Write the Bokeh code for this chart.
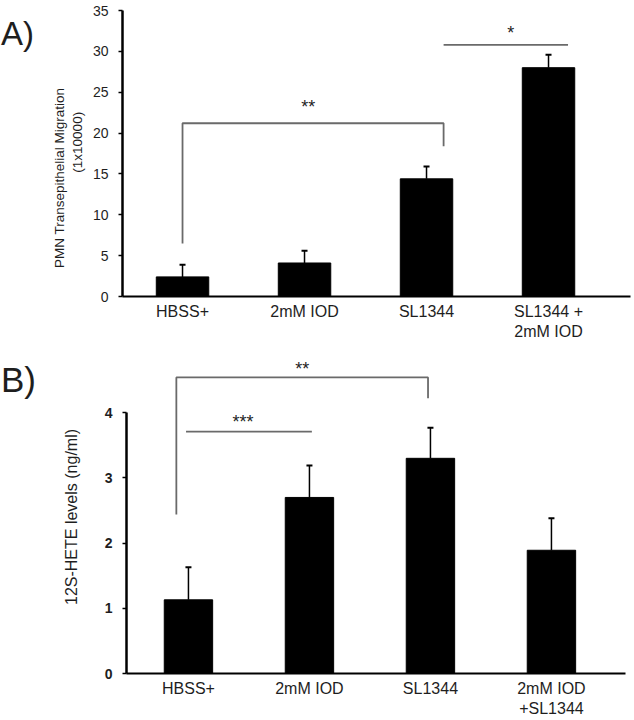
from bokeh.plotting import figure
from bokeh.layouts import column, row
from bokeh.models import Range1d, FixedTicker, Whisker, ColumnDataSource, TeeHead, Label, Div
from bokeh.embed import file_html
from bokeh.resources import INLINE

# ---- Panel A data ----
a_categories = ["HBSS+", "2mM IOD", "SL1344", "SL1344 +\n2mM IOD"]
a_values = [2.4, 4.1, 14.4, 28.0]
a_errors = [1.5, 1.5, 1.5, 1.6]
a_br1_x = [1.0, 1.0, 3.14, 3.14]
a_br1_y = [6.5, 21.2, 21.2, 18.4]
a_br2_x = [3.14, 4.16]
a_br2_y = [30.8, 30.8]
a_stars = ["**", "*"]
a_star_x = [2.03, 3.69]
a_star_y = [23.2, 32.3]

# ---- Panel B data ----
b_categories = ["HBSS+", "2mM IOD", "SL1344", "2mM IOD\n+SL1344"]
b_values = [1.13, 2.70, 3.30, 1.89]
b_errors = [0.50, 0.49, 0.47, 0.49]
b_br1_x = [0.90, 0.90, 2.98, 2.98]
b_br1_y = [2.44, 4.54, 4.54, 4.22]
b_br2_x = [0.98, 2.02]
b_br2_y = [3.71, 3.71]
b_stars = ["**", "***"]
b_star_x = [1.94, 1.45]
b_star_y = [4.67, 3.85]

FONT = "Liberation Sans"
TXT = "#1e1e1e"
GRAY = "#6a6a6a"
NB = "\u00a0"


def make_panel(cats, vals, errs, br1x, br1y, br2x, br2y, stars, sx, sy,
               xr, yr, ybounds, yticks, ylabel, ylabel_size, ylabel_standoff,
               tick_style, bar_w, h, b_top, b_bot, b_left, b_right):
    p = figure(width=594, height=h, output_backend="svg", toolbar_location=None,
               x_range=Range1d(*xr), y_range=Range1d(*yr),
               min_border_top=b_top, min_border_bottom=b_bot,
               min_border_left=b_left, min_border_right=b_right)
    p.outline_line_color = None
    p.xgrid.grid_line_color = None
    p.ygrid.grid_line_color = None
    p.background_fill_color = "white"
    p.border_fill_color = "white"

    xs = list(range(1, len(cats) + 1))
    src = ColumnDataSource(dict(x=xs, top=vals,
                                upper=[v + e for v, e in zip(vals, errs)]))
    w = Whisker(base="x", lower="top", upper="upper", source=src,
                line_color="black", line_width=1.5,
                upper_head=TeeHead(size=6, line_color="black", line_width=2),
                lower_head=None, level="underlay")
    p.add_layout(w)
    p.vbar(x="x", top="top", width=bar_w, bottom=0, source=src,
           fill_color="black", line_color="black")

    p.line(br1x, br1y, line_color=GRAY, line_width=1.8)
    p.line(br2x, br2y, line_color=GRAY, line_width=1.8)
    for s, x, y in zip(stars, sx, sy):
        p.add_layout(Label(x=x, y=y, text=s, text_font=FONT, text_font_size="18px",
                           text_color=TXT, text_align="center", text_baseline="middle"))

    xa = p.xaxis[0]
    xa.ticker = FixedTicker(ticks=xs)
    xa.major_label_overrides = {i: c for i, c in zip(xs, cats)}
    xa.major_tick_out = 0
    xa.major_tick_in = 0
    xa.minor_tick_out = 0
    xa.minor_tick_in = 0
    xa.axis_line_width = 2
    xa.axis_line_color = "black"
    xa.major_label_text_font = FONT
    xa.major_label_text_font_size = "16px"
    xa.major_label_text_color = TXT
    xa.major_label_standoff = 6

    ya = p.yaxis[0]
    ya.ticker = FixedTicker(ticks=yticks)
    ya.bounds = ybounds
    ya.axis_line_width = 2.5
    ya.axis_line_color = "black"
    ya.major_tick_out = 4
    ya.major_tick_in = 0
    ya.minor_tick_out = 0
    ya.minor_tick_in = 0
    ya.major_tick_line_width = 1.5
    ya.major_label_text_font = FONT
    ya.major_label_text_font_size = "14px"
    ya.major_label_text_font_style = tick_style
    ya.major_label_text_color = TXT
    ya.major_label_standoff = 10
    ya.axis_label = ylabel
    ya.axis_label_text_font = FONT
    ya.axis_label_text_font_size = ylabel_size
    ya.axis_label_text_font_style = "normal"
    ya.axis_label_text_color = TXT
    ya.axis_label_standoff = ylabel_standoff
    return p


pa = make_panel(a_categories, a_values, a_errors, a_br1_x, a_br1_y, a_br2_x, a_br2_y,
                a_stars, a_star_x, a_star_y,
                xr=(0.508, 4.672), yr=(0, 35), ybounds=(0, 35),
                yticks=[0, 5, 10, 15, 20, 25, 30, 35],
                ylabel="PMN Transepithelial Migration" + NB * 13 + "\n" + NB * 6 + "(1x10000)",
                ylabel_size="13.5px", ylabel_standoff=5, tick_style="normal",
                bar_w=0.43, h=352, b_top=10, b_bot=56, b_left=82, b_right=4)

pb = make_panel(b_categories, b_values, b_errors, b_br1_x, b_br1_y, b_br2_x, b_br2_y,
                b_stars, b_star_x, b_star_y,
                xr=(0.488, 4.612), yr=(0, 4.8), ybounds=(0, 4),
                yticks=[0, 1, 2, 3, 4],
                ylabel="12S-HETE levels (ng/ml)", ylabel_size="16px",
                ylabel_standoff=22, tick_style="bold",
                bar_w=0.40, h=368, b_top=8, b_bot=47, b_left=86, b_right=9)

div_a = Div(text="A)", width=40, height=60, margin=0,
            styles={"font-family": FONT, "font-size": "33px", "line-height": "1",
                    "color": TXT, "padding-top": "17px", "padding-left": "1px"})
div_b = Div(text="B)", width=40, height=60, margin=0,
            styles={"font-family": FONT, "font-size": "35px", "line-height": "1",
                    "color": TXT, "padding-top": "10px", "padding-left": "1px"})

layout = column(row(div_a, pa, spacing=0), row(div_b, pb, spacing=0), spacing=0)
open("out.html", "w").write(file_html(layout, INLINE))
